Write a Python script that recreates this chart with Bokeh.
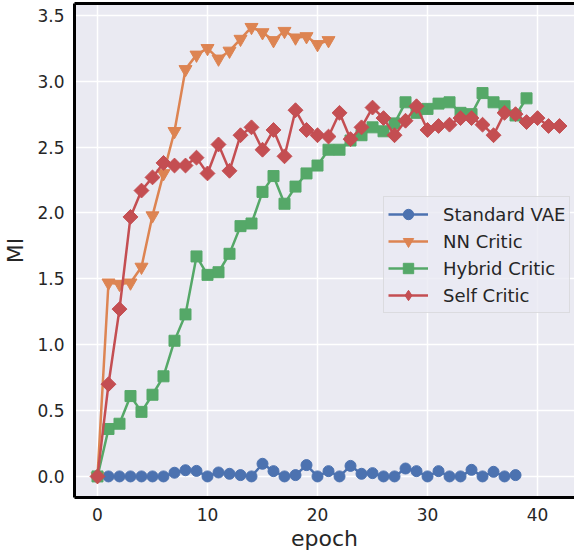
import numpy as np
from bokeh.plotting import figure
from bokeh.models import Range1d, LinearAxis, FixedTicker, PrintfTickFormatter, Legend, LegendItem
from bokeh.embed import file_html
from bokeh.resources import INLINE

# ---- data ----
epochs_vae = list(range(0, 39))
standard_vae = [0.0, 0.0, 0.0, 0.0, 0.0, 0.0, 0.0, 0.028, 0.047, 0.042,
                0.0, 0.03, 0.02, 0.01, 0.0, 0.096, 0.04, 0.0, 0.01, 0.086,
                0.0, 0.04, 0.0, 0.08, 0.02, 0.025, 0.0, 0.0, 0.06, 0.04,
                0.0, 0.04, 0.0, 0.0, 0.05, 0.0, 0.035, 0.0, 0.01]

epochs_nn = list(range(0, 22))
nn_critic = [0.0, 1.47, 1.46, 1.47, 1.59, 1.98, 2.30, 2.62, 3.09, 3.20,
             3.25, 3.17, 3.23, 3.32, 3.41, 3.37, 3.31, 3.38, 3.33, 3.34,
             3.28, 3.31]

epochs_hybrid = list(range(0, 40))
hybrid_critic = [0.0, 0.36, 0.40, 0.61, 0.49, 0.62, 0.76, 1.03, 1.23, 1.67,
                 1.53, 1.55, 1.69, 1.90, 1.92, 2.16, 2.28, 2.07, 2.20, 2.30,
                 2.36, 2.48, 2.48, 2.55, 2.59, 2.65, 2.62, 2.68, 2.84, 2.76,
                 2.79, 2.83, 2.84, 2.76, 2.75, 2.91, 2.84, 2.81, 2.74, 2.87]

epochs_self = list(range(0, 43))
self_critic = [0.0, 0.70, 1.27, 1.97, 2.17, 2.27, 2.38, 2.36, 2.36, 2.42,
               2.30, 2.52, 2.32, 2.59, 2.65, 2.48, 2.63, 2.43, 2.78, 2.63,
               2.59, 2.58, 2.76, 2.56, 2.65, 2.80, 2.72, 2.59, 2.70, 2.81,
               2.63, 2.66, 2.67, 2.72, 2.72, 2.67, 2.59, 2.76, 2.75, 2.69,
               2.72, 2.66, 2.66]

x_ticks = [0, 10, 20, 30, 40]
y_ticks = [0.0, 0.5, 1.0, 1.5, 2.0, 2.5, 3.0, 3.5]

FONT = "DejaVu Sans"
TXT = "#262626"

p = figure(width=574, height=553,
           x_range=Range1d(-2.09, 43.36), y_range=Range1d(-0.16, 3.59),
           output_backend="svg", toolbar_location=None,
           min_border_left=66, min_border_right=0, min_border_top=3, min_border_bottom=10,
           background_fill_color="#EAEAF2", border_fill_color="white")
p.outline_line_color = None

# grid
p.xgrid.ticker = FixedTicker(ticks=x_ticks)
p.ygrid.ticker = FixedTicker(ticks=y_ticks)
for g in (p.xgrid, p.ygrid):
    g.grid_line_color = "white"
    g.grid_line_width = 1.5

# axes
p.xaxis.ticker = FixedTicker(ticks=x_ticks)
p.yaxis.ticker = FixedTicker(ticks=y_ticks)
p.yaxis.formatter = PrintfTickFormatter(format="%.1f")
for ax in (p.xaxis[0], p.yaxis[0]):
    ax.axis_line_color = "black"
    ax.axis_line_width = 3
    ax.major_tick_line_color = None
    ax.minor_tick_line_color = None
    ax.major_tick_out = 0
    ax.major_tick_in = 0
    ax.major_label_text_font = FONT
    ax.major_label_text_font_size = "17px"
    ax.major_label_text_color = TXT
    ax.axis_label_text_font = FONT
    ax.axis_label_text_font_size = "22px"
    ax.axis_label_text_font_style = "normal"
    ax.axis_label_text_color = TXT
p.xaxis.axis_label = "epoch"
p.yaxis.axis_label = "MI"
p.xaxis.major_label_standoff = 10
p.yaxis.major_label_standoff = 10
p.xaxis.axis_label_standoff = 2
p.yaxis.axis_label_standoff = 6

top = LinearAxis(ticker=FixedTicker(ticks=[]), axis_line_color="black", axis_line_width=3,
                 major_tick_line_color=None, minor_tick_line_color=None,
                 major_label_text_font_size="0px")
p.add_layout(top, "above")

series = [
    ("Standard VAE", epochs_vae, standard_vae, "#4C72B0", "circle", 11, 0.0, "circle"),
    ("NN Critic", epochs_nn, nn_critic, "#DD8452", "inverted_triangle", 13, 0.0, "inverted_triangle"),
    ("Hybrid Critic", epochs_hybrid, hybrid_critic, "#55A868", "square", 11, 0.0, "square"),
    ("Self Critic", epochs_self, self_critic, "#C44E52", "square", 10.5, np.pi / 4, "diamond"),
]

items = []
for name, xs, ys, col, mk, sz, ang, legmk in series:
    r1 = p.line(xs, ys, line_color=col, line_width=2.5)
    r2 = p.scatter(xs, ys, marker=mk, size=sz, angle=ang, fill_color=col, line_color=col)
    if legmk != mk:
        # legend-only marker, placed outside the visible range
        r3 = p.scatter([-100], [-100], marker=legmk, size=sz, fill_color=col, line_color=col)
        items.append(LegendItem(label=name, renderers=[r1, r3]))
    else:
        items.append(LegendItem(label=name, renderers=[r1, r2]))

legend = Legend(items=items, location=(309, 184),
                label_text_font=FONT, label_text_font_size="18px", label_text_color=TXT,
                glyph_width=40, glyph_height=26, label_standoff=15, spacing=1,
                padding=4, margin=0,
                background_fill_color="#EAEAF2", background_fill_alpha=0.8,
                border_line_color="#CCCCCC", border_line_width=1)
p.add_layout(legend, "center")

open("out.html", "w").write(file_html(p, INLINE))
